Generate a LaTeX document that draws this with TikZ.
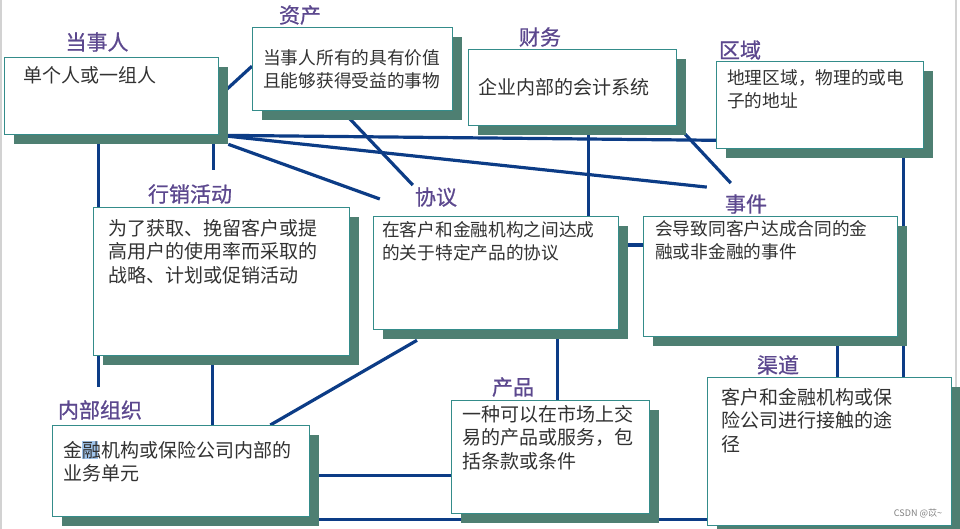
\documentclass[tikz,border=0pt]{standalone}
\usepackage{fontspec}
\newfontfamily\cjk{Noto Sans CJK SC}
\newfontfamily\cjktitle[FakeBold=0.8]{Noto Sans CJK SC}
\usetikzlibrary{shadows,backgrounds}

\definecolor{boxteal}{RGB}{52,140,138}
\definecolor{shadowgreen}{RGB}{78,127,114}
\definecolor{linkblue}{RGB}{12,60,134}
\definecolor{titlepurple}{RGB}{92,72,142}
\definecolor{bodygray}{RGB}{50,50,50}
\definecolor{edgegray}{RGB}{210,210,210}
\definecolor{selblue}{RGB}{160,196,235}

\begin{document}
\begin{tikzpicture}[
    x=1pt, y=-1pt,
  boxnode/.style={rectangle, draw=boxteal, line width=1.3pt, fill=white, anchor=north west, inner sep=0pt,
    general shadow={fill=shadowgreen, shadow xshift=9pt, shadow yshift=-9pt}},
  titlenode/.style={text=titlepurple, inner sep=2pt, font=\cjktitle\fontsize{21}{21}\selectfont},
  bodynode/.style={text=bodygray, anchor=north west, align=left, inner sep=0pt, font=\cjk\fontsize{19}{23.5}\selectfont},
  smallbody/.style={bodynode, font=\cjk\fontsize{17.7}{23.5}\selectfont},
  linkline/.style={draw=linkblue, line width=3.2pt}
]

\useasboundingbox (0,0) rectangle (960,529);

% Page edges
\draw[edgegray, line width=1.5pt] (1,0) -- (1,529);
\draw[edgegray, line width=1.5pt] (956,0) -- (956,529);

% Boxes
\node[boxnode, minimum width=214, minimum height=77] (party) at (4,57) {};
\node[boxnode, minimum width=200, minimum height=83] (asset) at (252,27) {};
\node[boxnode, minimum width=208, minimum height=76] (finance) at (468,49) {};
\node[boxnode, minimum width=207, minimum height=87] (region) at (716,61) {};
\node[boxnode, minimum width=256, minimum height=148] (market) at (93,207) {};
\node[boxnode, minimum width=245, minimum height=113] (agree) at (373,216) {};
\node[boxnode, minimum width=254, minimum height=120] (event) at (643,216) {};
\node[boxnode, minimum width=257, minimum height=91] (org) at (52,425) {};
\node[boxnode, minimum width=198, minimum height=113] (product) at (451,400) {};
\node[boxnode, minimum width=244, minimum height=148] (channel) at (707,377) {};

% Titles
\node[titlenode] (partylbl) at (97,42) {当事人};
\node[titlenode] (assetlbl) at (300,15) {资产};
\node[titlenode] (financelbl) at (540,37) {财务};
\node[titlenode] (regionlbl) at (740,50) {区域};
\node[titlenode] (marketlbl) at (190,194) {行销活动};
\node[titlenode] (agreelbl) at (436,197) {协议};
\node[titlenode] (eventlbl) at (746,204) {事件};
\node[titlenode] (orglbl) at (100,410) {内部组织};
\node[titlenode] (productlbl) at (513,387) {产品};
\node[titlenode] (channellbl) at (778,365) {渠道};

% Selection mark
\fill[selblue] (82,441) rectangle (98,459);

% Box texts
\node[bodynode] (partytxt) at (23,66) {单个人或一组人};
\node[smallbody] (assettxt) at (263,49) {当事人所有的具有价值\\且能够获得受益的事物};
\node[bodynode] (financetxt) at (478,78) {企业内部的会计系统};
\node[smallbody] (regiontxt) at (727,69) {地理区域，物理的或电\\子的地址};
\node[bodynode] (markettxt) at (108,219) {为了获取、挽留客户或提\\高用户的使用率而采取的\\战略、计划或促销活动};
\node[smallbody] (agreetxt) at (382,221) {在客户和金融机构之间达成\\的关于特定产品的协议};
\node[smallbody] (eventtxt) at (655,220) {会导致同客户达成合同的金\\融或非金融的事件};
\node[bodynode] (orgtxt) at (63,441) {金融机构或保险公司内部的\\业务单元};
\node[bodynode] (producttxt) at (462,405) {一种可以在市场上交\\易的产品或服务，包\\括条款或条件};
\node[bodynode] (channeltxt) at (721,388) {客户和金融机构或保\\险公司进行接触的途\\径};

\node[text=gray, inner sep=0pt, font=\cjk\fontsize{9}{9}\selectfont] (mark) at (918,513) {CSDN @苡\textasciitilde};

% Links
\begin{pgfonlayer}{background}
\draw[linkline] (party.east) -- ([yshift=3pt]asset.west);
\draw[linkline] ([xshift=-10pt]asset.south) -- (agreelbl.north west);
\draw[linkline] (party.south east) -- ([yshift=9pt]region.south west);
\draw[linkline] (party.south east) -- ([xshift=-16pt,yshift=5pt]eventlbl.north west);
\draw[linkline] ([xshift=9pt,yshift=-9pt]party.south east) -- ([xshift=-33pt,yshift=-2pt]agreelbl.west);
\draw[linkline] ([xshift=-13pt]party.south) -- ([xshift=-13pt,yshift=11pt]party.south |- orglbl.north);
\draw[linkline] ([xshift=-6pt]party.south east) -- ([xshift=-6pt,yshift=12pt]party.south east |- marketlbl.north);
\draw[linkline] ([xshift=-9pt]market.south) -- ([xshift=-9pt]market.south |- org.north);
\draw[linkline] ([xshift=44pt,yshift=-10pt]agree.south west) -- ([xshift=-40pt]org.north east);
\draw[linkline] ([xshift=16pt]finance.south) -- ([xshift=16pt]finance.south |- agree.north);
\draw[linkline] ([xshift=8pt,yshift=-8pt]finance.south east) -- ([xshift=8pt,yshift=9pt]eventlbl.north west);
\draw[linkline] ([xshift=-21pt]region.south east) -- ([xshift=-21pt]region.south east |- channel.north);
\draw[linkline] ([yshift=-29pt]agree.north east) -- ([yshift=-29pt]event.north west);
\draw[linkline] ([xshift=-61pt]event.south east) -- ([xshift=-61pt]event.south east |- channel.north);
\draw[linkline] ([xshift=-62pt]agree.south east) -- ([xshift=-62pt]agree.south east |- product.north);
\draw[linkline] ([yshift=-4pt]org.east) -- ([yshift=-4pt]org.east -| product.west);
\draw[linkline] ([yshift=-2pt]org.south east) -- ([yshift=-2pt]org.south east -| channel.west);
\end{pgfonlayer}

\end{tikzpicture}
\end{document}
